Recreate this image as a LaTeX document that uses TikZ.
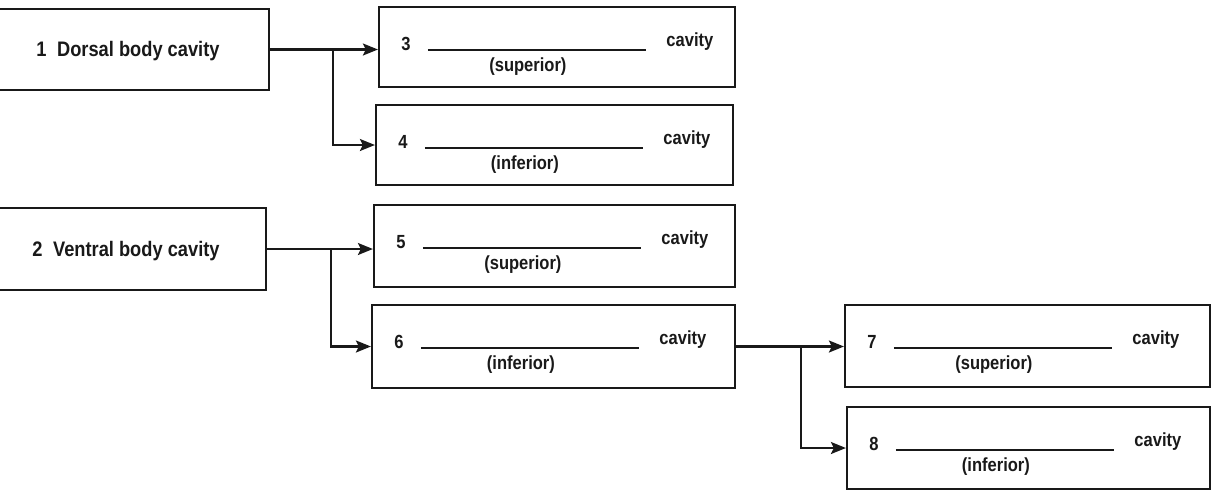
\documentclass[tikz,border=0pt]{standalone}
\usepackage{fontspec}
\setmainfont{Liberation Sans}[FakeStretch=0.87]
\usetikzlibrary{calc,arrows.meta}
\tikzset{
  box/.style={draw=black!90, line width=2.2pt, rectangle, inner sep=0pt, fill=white},
  lbl/.style={inner sep=0pt, text=black!90, font=\fontsize{19}{21}\selectfont\bfseries},
  big/.style={inner sep=0pt, text=black!90, font=\fontsize{21}{23}\selectfont\bfseries},
  conn/.style={draw=black!90, line width=2.2pt, -{Stealth[length=15pt,width=12pt,inset=3pt]}},
  blank/.style={draw=black!90, line width=1.8pt}
}
\newcommand\cavlabel[3]{%
  \node[lbl] (#1n) at ($(#1.north west)+(28,38)$) {#2};
  \coordinate (#1a) at ($(#1.north west)+(50,44)$);
  \coordinate (#1b) at ($(#1.north west)+(268,44)$);
  \draw[blank] (#1a) -- (#1b);
  \node[lbl] (#1p) at ($(#1.north west)+(150,61)$) {(#3)};
  \node[lbl] (#1c) at ($(#1.north west)+(312,36)$) {cavity};
}
\begin{document}
\begin{tikzpicture}[x=1pt,y=-1pt]
\useasboundingbox (0,0) rectangle (1212,491);
\fill[white] (0,0) rectangle (1212,491);
% boxes
\node[box, minimum width=279pt, minimum height=81pt] (b1) at (129.5,49.5) {};
\node[box, minimum width=276pt, minimum height=82pt] (b2) at (128,249) {};
\node[box, minimum width=356pt, minimum height=80pt] (b3) at (557,47) {};
\node[box, minimum width=357pt, minimum height=80pt] (b4) at (554.5,145) {};
\node[box, minimum width=361pt, minimum height=82pt] (b5) at (554.5,246) {};
\node[box, minimum width=363pt, minimum height=83pt] (b6) at (553.5,346.5) {};
\node[box, minimum width=365pt, minimum height=82pt] (b7) at (1027.5,346) {};
\node[box, minimum width=363pt, minimum height=82pt] (b8) at (1028.5,448) {};
% main labels
\node[big] (t1) at (128,51) {1\enspace Dorsal body cavity};
\node[big] (t2) at (126,251) {2\enspace Ventral body cavity};
% blank labels
\cavlabel{b3}{3}{superior}
\cavlabel{b4}{4}{inferior}
\cavlabel{b5}{5}{superior}
\cavlabel{b6}{6}{inferior}
\cavlabel{b7}{7}{superior}
\cavlabel{b8}{8}{inferior}
% connectors
\coordinate (j1) at ($(b1.east)+(63,0)$);
\coordinate (j2) at ($(b2.east)+(64,0)$);
\coordinate (j3) at ($(b6.east)+(65,0)$);
\draw[conn] (b1.east) -- (b1.east -| b3.west);
\draw[conn] (j1) |- (b4.west);
\draw[conn] (b2.east) -- (b2.east -| b5.west);
\draw[conn] (j2) |- (b6.west);
\draw[conn] (b6.east) -- (b6.east -| b7.west);
\draw[conn] (j3) |- (b8.west);
\end{tikzpicture}
\end{document}
